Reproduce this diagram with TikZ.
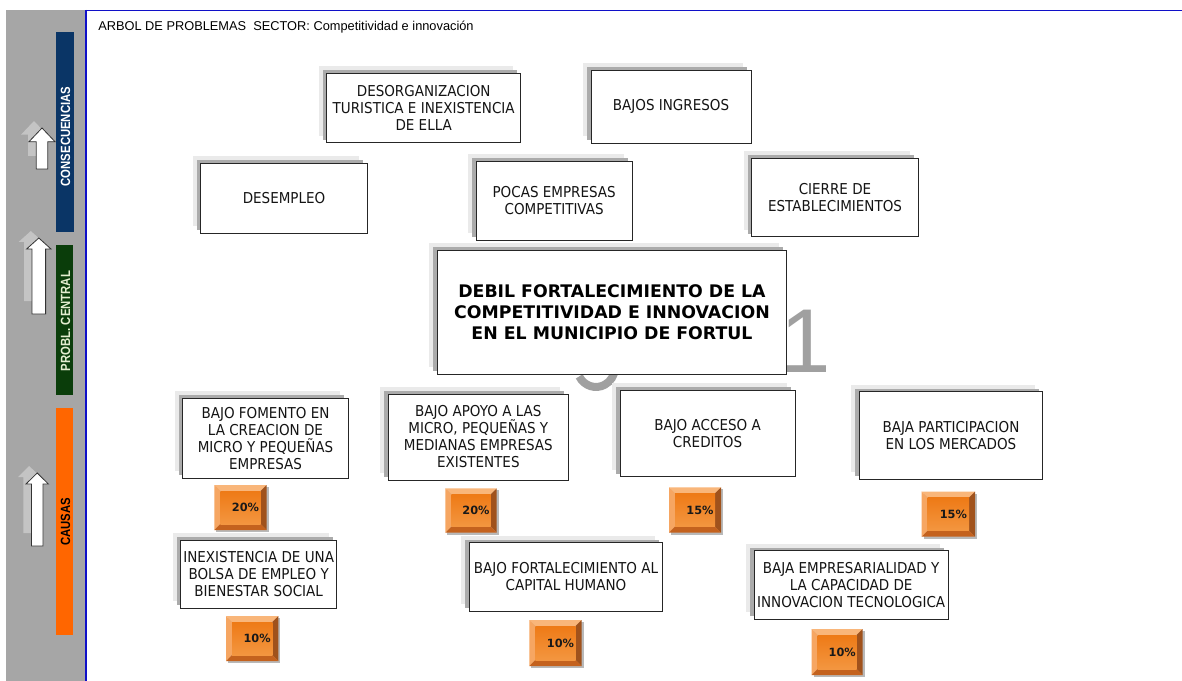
\documentclass[tikz,border=0pt]{standalone}
\usepackage{fontspec}
\setmainfont{Liberation Sans}
\newfontfamily\boxfont[FakeStretch=0.9]{DejaVu Sans}
\newfontfamily\cenfont{DejaVu Sans}
\newfontfamily\sidefont[FakeStretch=0.85]{Liberation Sans}
\definecolor{panelgray}{HTML}{A6A6A6}
\definecolor{shlight}{HTML}{EAEAEA}
\definecolor{shdark}{HTML}{ABABAB}
\definecolor{consblue}{HTML}{0A3566}
\definecolor{probgreen}{HTML}{0A3D0A}
\definecolor{causorange}{HTML}{FF6600}
\definecolor{frameblue}{HTML}{1010C8}
\definecolor{bvtop}{HTML}{F9B67A}
\definecolor{bvleft}{HTML}{F6A662}
\definecolor{bvright}{HTML}{A0521C}
\definecolor{bvbottom}{HTML}{C4621E}
\definecolor{facetop}{HTML}{EE7A16}
\definecolor{facebot}{HTML}{F39640}
\definecolor{bignumgray}{HTML}{A0A0A0}
\definecolor{arrowshadow}{HTML}{C4C4C4}
\definecolor{prtext}{HTML}{E4EED0}
\newcommand\mybox[7][tbox]{%
  \fill[shlight] ({#3-8},{#4-7}) rectangle ({#5-8},{#6-7});
  \fill[shdark] ({#3-4},{#4-3}) rectangle ({#5-4},{#6-3});
  \node[#1, minimum width={(#5-#3)*0.75pt}, minimum height={(#6-#4)*0.75pt}] (#2) at ({(#3+#5)/2},{(#4+#6)/2}) {#7};
}
\newcommand\mypct[6]{%
  \fill[gray!55] ({#2+2},{#3+2}) rectangle ({#4+2},{#5+2});
  \fill[bvtop] (#2,#3) -- (#4,#3) -- ({#4-6},{#3+6}) -- ({#2+6},{#3+6}) -- cycle;
  \fill[bvleft] (#2,#3) -- ({#2+6},{#3+6}) -- ({#2+6},{#5-6}) -- (#2,#5) -- cycle;
  \fill[bvright] (#4,#3) -- (#4,#5) -- ({#4-6},{#5-6}) -- ({#4-6},{#3+6}) -- cycle;
  \fill[bvbottom] (#2,#5) -- (#4,#5) -- ({#4-6},{#5-6}) -- ({#2+6},{#5-6}) -- cycle;
  \node[pface, minimum width={(#4-#2-12)*0.75pt}, minimum height={(#5-#3-12)*0.75pt}] (#1) at ({(#2+#4)/2},{(#3+#5)/2}) {};
  \node[ptext] (#1t) at ([xshift=3.75pt]#1.center) {#6};
}
\newcommand\myarrow[6]{%
  \begin{scope}[shift={(-8,-7)}]
    \fill[arrowshadow] (#1,#2) -- ({#1+#5},#3) -- ({#1+#6},#3) -- ({#1+#6},{#4-6}) -- ({#1-#6},{#4-6}) -- ({#1-#6},#3) -- ({#1-#5},#3) -- cycle;
  \end{scope}
  \draw[fill=white, draw=black!80, line width=0.6pt, line join=miter] (#1,#2) -- ({#1+#5},#3) -- ({#1+#6},#3) -- ({#1+#6},#4) -- ({#1-#6},#4) -- ({#1-#6},#3) -- ({#1-#5},#3) -- cycle;
}
\begin{document}
\begin{tikzpicture}[x=0.75pt,y=-0.75pt,
  tbox/.style={draw=black!85, line width=0.6pt, fill=white, inner sep=0pt, align=center,
    font=\boxfont\fontsize{11.25}{12.75}\selectfont, text=black!92},
  cbox/.style={draw=black!85, line width=0.6pt, fill=white, inner sep=0pt, align=center,
    font=\cenfont\bfseries\fontsize{13}{15.75}\selectfont, text=black},
  pface/.style={inner sep=0pt, shading=axis, top color=facetop, bottom color=facebot},
  ptext/.style={inner sep=0pt, font=\cenfont\bfseries\fontsize{8.5}{9}\selectfont, text=black!90},
  sidelabel/.style={rotate=90, inner sep=0pt, font=\sidefont\bfseries\fontsize{10}{12}\selectfont},
  bignum/.style={anchor=base, inner sep=0pt, text=bignumgray, font=\fontsize{68}{70}\selectfont}
]
\useasboundingbox (0,0) rectangle (1182,681);
\fill[white] (0,0) rectangle (1182,681);
% left panel
\fill[panelgray] (6,10) rectangle (84.8,681);
\draw[frameblue, line width=1.9pt] (85.8,10) -- (85.8,681);
\draw[frameblue, line width=1.1pt] (86.5,10.7) -- (1182,10.7);
% side bars
\fill[consblue] (55.7,31.7) rectangle (73.5,231.7);
\fill[probgreen] (55.7,245) rectangle (72.7,395);
\fill[causorange] (55.7,408) rectangle (73.3,635);
\node[sidelabel, text=white] (lcons) at (65.5,136.5) {CONSECUENCIAS};
\node[sidelabel, text=prtext] (lprob) at (65.5,321) {PROBL. CENTRAL};
\node[sidelabel, text=black] (lcaus) at (65.5,521.7) {CAUSAS};
% side arrows
\myarrow{42}{128}{141.7}{169}{13}{5.8}
\myarrow{38.8}{238}{249}{314}{12.2}{6.8}
\myarrow{37.2}{473}{484}{546}{11.2}{5.8}
% title
\node[anchor=base west, inner sep=0pt, font=\fontsize{9.6}{11}\selectfont] (title) at (98,30.5)
  {ARBOL DE PROBLEMAS\ \ SECTOR: Competitividad e innovación};
% background numeral fragments
\draw[bignumgray, line width=6pt, line cap=butt] (596,367) ++(152:19 and 20) arc[start angle=152, end angle=5, x radius=19, y radius=20];
\node[bignum] (n1) at (805.8,372) {1};
% consequences
\mybox{desorg}{326.7}{73.3}{520.7}{142.7}{DESORGANIZACION\\TURISTICA E INEXISTENCIA\\DE ELLA}
\mybox{bajosing}{591}{70}{751}{143.3}{BAJOS INGRESOS}
\mybox{desemp}{200.7}{163.3}{367.3}{233.3}{DESEMPLEO}
\mybox{pocas}{476}{161}{632.3}{240}{POCAS EMPRESAS\\COMPETITIVAS}
\mybox{cierre}{751.7}{158.3}{918.3}{236.7}{CIERRE DE\\ESTABLECIMIENTOS}
% central problem
\mybox[cbox]{central}{437.3}{250}{786.7}{374}{DEBIL FORTALECIMIENTO DE LA\\COMPETITIVIDAD E INNOVACION\\EN EL MUNICIPIO DE FORTUL}
% causes
\mybox{fomento}{182.7}{398.3}{348.3}{478.3}{BAJO FOMENTO EN\\LA CREACION DE\\MICRO Y PEQUEÑAS\\EMPRESAS}
\mybox{apoyo}{388.3}{394}{568.3}{480}{BAJO APOYO A LAS\\MICRO, PEQUEÑAS Y\\MEDIANAS EMPRESAS\\EXISTENTES}
\mybox{acceso}{620}{390}{795}{476.7}{BAJO ACCESO A\\CREDITOS}
\mybox{particip}{859.3}{391.7}{1042.7}{479.3}{BAJA PARTICIPACION\\EN LOS MERCADOS}
\mybox{inexist}{180.7}{540}{336.7}{608.3}{INEXISTENCIA DE UNA\\BOLSA DE EMPLEO Y\\BIENESTAR SOCIAL}
\mybox{capital}{469.3}{542.7}{662.7}{611}{BAJO FORTALECIMIENTO AL\\CAPITAL HUMANO}
\mybox{empres}{754}{550.7}{948.3}{619}{BAJA EMPRESARIALIDAD Y\\LA CAPACIDAD DE\\INNOVACION TECNOLOGICA}
% percentages
\mypct{p1}{214.3}{485}{266.7}{530}{20\%}
\mypct{p2}{445.3}{488.3}{496.7}{532.7}{20\%}
\mypct{p3}{669}{487.3}{721}{532.7}{15\%}
\mypct{p4}{921.7}{491.7}{975}{536.7}{15\%}
\mypct{p5}{226}{616}{278.3}{661}{10\%}
\mypct{p6}{529.3}{620}{581.7}{666}{10\%}
\mypct{p7}{811.7}{629}{862.7}{675}{10\%}
\end{tikzpicture}
\end{document}
